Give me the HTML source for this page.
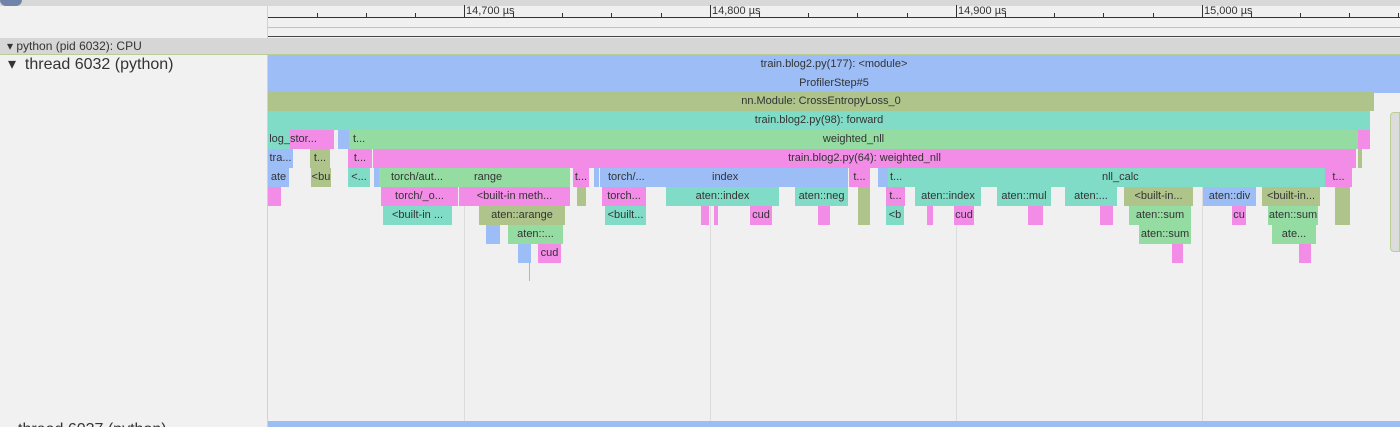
<!DOCTYPE html>
<html><head><meta charset="utf-8"><style>
html,body{margin:0;width:1400px;height:427px;overflow:hidden}
body{background:#f1f1f1;font-family:"Liberation Sans",sans-serif;position:relative}
div{position:absolute;box-sizing:border-box}
.b{height:19px;font-size:11px;line-height:19px;color:#333;white-space:nowrap;overflow:hidden;text-align:center}
.B{background:#9cbdf6}.O{background:#aec48a}.T{background:#80dcc6}.G{background:#94dca2}.P{background:#f28ce6}
.t{height:5px;width:1px;background:#333;top:13px}
.v{width:1px;background:#dcdcdc;top:55px;height:366px}
.lb{position:absolute;font-size:11px;color:#333;top:5px}
</style></head><body>
<div style="left:0;top:0;width:1400px;height:6px;background:#d8d8d8"></div>
<div style="left:0;top:0;width:22px;height:6px;background:#6f84a8;border-radius:0 0 10px 10px"></div>
<div style="left:267px;top:6px;width:1133px;height:421px;background:#f0f0f0"></div>
<div style="left:267px;top:6px;width:1px;height:421px;background:#cfd8b8"></div>
<div style="left:268px;top:17px;width:1132px;height:1px;background:#333"></div>
<div class="t" style="left:317px"></div><div class="t" style="left:366px"></div><div class="t" style="left:415px"></div>
<div class="t" style="left:464px;top:5px;height:13px"></div>
<div class="t" style="left:513px"></div><div class="t" style="left:562px"></div><div class="t" style="left:611px"></div><div class="t" style="left:661px"></div>
<div class="t" style="left:710px;top:5px;height:13px"></div>
<div class="t" style="left:759px"></div><div class="t" style="left:808px"></div><div class="t" style="left:857px"></div><div class="t" style="left:907px"></div>
<div class="t" style="left:956px;top:5px;height:13px"></div>
<div class="t" style="left:1005px"></div><div class="t" style="left:1054px"></div><div class="t" style="left:1103px"></div><div class="t" style="left:1153px"></div>
<div class="t" style="left:1202px;top:5px;height:13px"></div>
<div class="t" style="left:1251px"></div><div class="t" style="left:1300px"></div><div class="t" style="left:1349px"></div><div class="t" style="left:1398px"></div>
<span class="lb" style="left:466px">14,700 µs</span>
<span class="lb" style="left:712px">14,800 µs</span>
<span class="lb" style="left:958px">14,900 µs</span>
<span class="lb" style="left:1204px">15,000 µs</span>
<div style="left:268px;top:27px;width:1132px;height:1px;background:#b9cd95"></div>
<div style="left:268px;top:36px;width:1132px;height:1px;background:#444"></div>
<div style="left:0;top:38px;width:1400px;height:16px;background:#d6d6d6"></div>
<div style="left:0;top:54px;width:1400px;height:1px;background:#b9cd95"></div>
<div style="left:7px;top:38px;font-size:12px;line-height:16px;color:#333">▾ python (pid 6032): CPU</div>
<div style="left:8px;top:55px;font-size:16px;line-height:20px;color:#333">▾&nbsp; thread 6032 (python)</div>
<div style="left:18px;top:420px;font-size:16px;line-height:20px;color:#333">thread 6037 (python)</div>
<div class="v" style="left:464px"></div><div class="v" style="left:710px"></div><div class="v" style="left:956px"></div><div class="v" style="left:1202px"></div>
<div class="b B" style="left:268px;top:55px;width:1132px">train.blog2.py(177): &lt;module&gt;</div>
<div class="b B" style="left:268px;top:74px;width:1132px">ProfilerStep#5</div>
<div class="b O" style="left:268px;top:92px;width:1106px">nn.Module: CrossEntropyLoss_0</div>
<div class="b T" style="left:268px;top:111px;width:1102px">train.blog2.py(98): forward</div>
<div class="b T" style="left:268px;top:130px;width:22px;text-align:right">log_</div>
<div class="b P" style="left:290px;top:130px;width:44px;text-align:left">stor...</div>
<div class="b B" style="left:338px;top:130px;width:11px"></div>
<div class="b G" style="left:349px;top:130px;width:1009px">weighted_nll</div>
<div class="b" style="left:353px;top:130px;width:20px;text-align:left">t...</div>
<div class="b P" style="left:1358px;top:130px;width:12px"></div>
<div class="b B" style="left:268px;top:149px;width:25px">tra...</div>
<div class="b O" style="left:310px;top:149px;width:20px">t...</div>
<div class="b P" style="left:348px;top:149px;width:24px">t...</div>
<div class="b P" style="left:373px;top:149px;width:983px">train.blog2.py(64): weighted_nll</div>
<div class="b O" style="left:1358px;top:149px;width:4px"></div>
<div class="b B" style="left:268px;top:168px;width:21px">ate</div>
<div class="b O" style="left:311px;top:168px;width:20px">&lt;bu</div>
<div class="b T" style="left:348px;top:168px;width:22px">&lt;...</div>
<div class="b B" style="left:374px;top:168px;width:5px"></div>
<div class="b G" style="left:379px;top:168px;width:191px"><span style="position:absolute;left:12px">torch/aut...</span><span style="position:absolute;left:95px">range</span></div>
<div class="b P" style="left:573px;top:168px;width:16px">t...</div>
<div class="b B" style="left:594px;top:168px;width:5px"></div>
<div class="b B" style="left:600px;top:168px;width:248px"><span style="position:absolute;left:8px">torch/...</span><span style="position:absolute;left:112px">index</span></div>
<div class="b P" style="left:849px;top:168px;width:21px">t...</div>
<div class="b B" style="left:878px;top:168px;width:10px"></div>
<div class="b T" style="left:888px;top:168px;width:437px"><span style="position:absolute;left:2px">t...</span><span style="position:absolute;left:214px">nll_calc</span></div>
<div class="b P" style="left:1325px;top:168px;width:27px">t...</div>
<div class="b P" style="left:268px;top:187px;width:13px"></div>
<div class="b P" style="left:381px;top:187px;width:77px">torch/_o...</div>
<div class="b P" style="left:459px;top:187px;width:111px">&lt;built-in meth...</div>
<div class="b O" style="left:577px;top:187px;width:9px"></div>
<div class="b P" style="left:602px;top:187px;width:44px">torch...</div>
<div class="b T" style="left:666px;top:187px;width:113px">aten::index</div>
<div class="b T" style="left:795px;top:187px;width:53px">aten::neg</div>
<div class="b O" style="left:858px;top:187px;width:12px"></div>
<div class="b P" style="left:886px;top:187px;width:19px">t...</div>
<div class="b T" style="left:915px;top:187px;width:66px">aten::index</div>
<div class="b T" style="left:997px;top:187px;width:54px">aten::mul</div>
<div class="b T" style="left:1065px;top:187px;width:52px">aten:...</div>
<div class="b O" style="left:1124px;top:187px;width:69px">&lt;built-in...</div>
<div class="b B" style="left:1203px;top:187px;width:53px">aten::div</div>
<div class="b O" style="left:1262px;top:187px;width:58px">&lt;built-in...</div>
<div class="b O" style="left:1335px;top:187px;width:15px;height:38px"></div>
<div class="b T" style="left:383px;top:206px;width:69px">&lt;built-in ...</div>
<div class="b O" style="left:479px;top:206px;width:86px">aten::arange</div>
<div class="b T" style="left:605px;top:206px;width:41px">&lt;built...</div>
<div class="b P" style="left:701px;top:206px;width:8px"></div>
<div class="b P" style="left:714px;top:206px;width:4px"></div>
<div class="b P" style="left:750px;top:206px;width:22px">cud</div>
<div class="b P" style="left:818px;top:206px;width:12px"></div>
<div class="b O" style="left:858px;top:206px;width:12px"></div>
<div class="b T" style="left:886px;top:206px;width:18px">&lt;b</div>
<div class="b P" style="left:927px;top:206px;width:6px"></div>
<div class="b P" style="left:954px;top:206px;width:20px">cud</div>
<div class="b P" style="left:1028px;top:206px;width:15px"></div>
<div class="b P" style="left:1100px;top:206px;width:13px"></div>
<div class="b G" style="left:1129px;top:206px;width:62px">aten::sum</div>
<div class="b P" style="left:1232px;top:206px;width:14px">cu</div>
<div class="b G" style="left:1268px;top:206px;width:50px">aten::sum</div>
<div class="b B" style="left:486px;top:225px;width:14px"></div>
<div class="b G" style="left:508px;top:225px;width:55px">aten::...</div>
<div class="b G" style="left:1139px;top:225px;width:52px">aten::sum</div>
<div class="b G" style="left:1272px;top:225px;width:44px">ate...</div>
<div class="b B" style="left:518px;top:244px;width:13px"></div>
<div class="b P" style="left:538px;top:244px;width:23px">cud</div>
<div class="b P" style="left:1172px;top:244px;width:11px"></div>
<div class="b P" style="left:1299px;top:244px;width:12px"></div>
<div style="left:529px;top:263px;width:1px;height:18px;background:#f28ce6"></div>
<div style="left:1390px;top:112px;width:10px;height:140px;background:#dcdcdc;border:1px solid #b9cd95;border-radius:4px 0 0 4px"></div>
<div class="b B" style="left:268px;top:421px;width:1132px;height:6px"></div>
</body></html>
